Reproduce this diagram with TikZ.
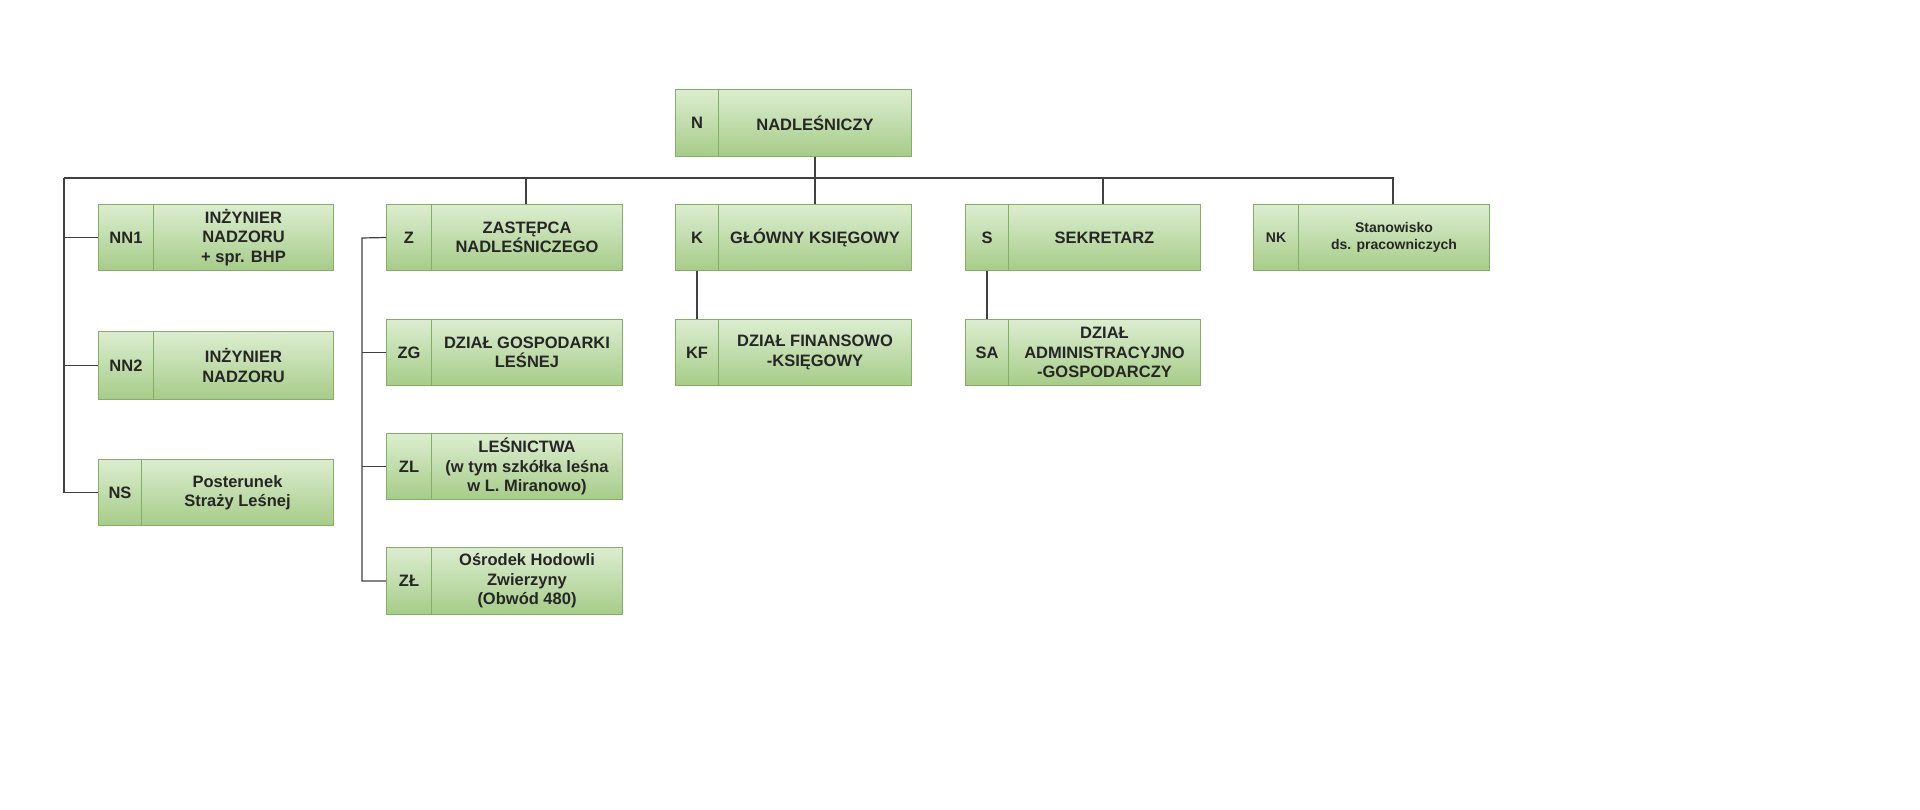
\documentclass[tikz,border=0pt]{standalone}
\usepackage{fontspec}
\setmainfont{Liberation Sans}
\definecolor{gtop}{HTML}{DCEDD0}
\definecolor{gbot}{HTML}{A6CC88}
\definecolor{gline}{HTML}{82AE68}
\begin{document}
\begin{tikzpicture}[x=1pt,y=-1pt,
  cell/.style={draw=gline, line width=1pt, top color=gtop, bottom color=gbot, shading angle=0,
    inner sep=2pt, anchor=north west, align=center, font=\bfseries\fontsize{16.5}{19.5}\selectfont, text=black!85},
  wire/.style={draw=black!75, line width=1.2pt}]
\useasboundingbox (0,0) rectangle (1920,810);
\newcommand{\orgbox}[8]{%
  \node[cell, minimum width={#4-#2}, minimum height={#5-#3}] (#1c) at (#2,#3) {#7};
  \node[cell, minimum width={#6-#4}, minimum height={#5-#3}] (#1t) at (#4,#3) {#8};
}
% name, x1,y1, divider,y2, x2, code, text
\orgbox{n}{675}{89}{718}{156}{911}{N}{NADLEŚNICZY}
\orgbox{nna}{98}{204}{153}{270}{333}{NN1}{INŻYNIER\\NADZORU\\+ spr. BHP}
\orgbox{nnb}{98}{331}{153}{399}{333}{NN2}{INŻYNIER\\NADZORU}
\orgbox{ns}{98}{459}{141}{525}{333}{NS}{Posterunek\\Straży Leśnej}
\orgbox{z}{386}{204}{431}{270}{622}{Z}{ZASTĘPCA\\NADLEŚNICZEGO}
\orgbox{zg}{386}{319}{431}{385}{622}{ZG}{DZIAŁ GOSPODARKI\\LEŚNEJ}
\orgbox{zl}{386}{433}{431}{499}{622}{ZL}{LEŚNICTWA\\(w tym szkółka leśna\\w L. Miranowo)}
\orgbox{zll}{386}{547}{431}{614}{622}{ZŁ}{Ośrodek Hodowli\\Zwierzyny\\(Obwód 480)}
\orgbox{k}{675}{204}{718}{270}{911}{K}{GŁÓWNY KSIĘGOWY}
\orgbox{kf}{675}{319}{718}{385}{911}{KF}{DZIAŁ FINANSOWO\\-KSIĘGOWY}
\orgbox{s}{965}{204}{1008}{270}{1200}{S}{SEKRETARZ}
\orgbox{sa}{965}{319}{1008}{385}{1200}{SA}{DZIAŁ\\ADMINISTRACYJNO\\-GOSPODARCZY}
\node[cell, minimum width=45, minimum height=66, font=\bfseries\fontsize{14}{17}\selectfont] (nkc) at (1253,204) {NK};
\node[cell, minimum width=191, minimum height=66, font=\bfseries\fontsize{14}{17}\selectfont] (nkt) at (1298,204) {Stanowisko\\ds. pracowniczych};
% bus
\coordinate (bl) at (64,178);
\coordinate (br) at (1393,178);
\coordinate (bn) at (815,178);
\coordinate (bz) at (526,178);
\coordinate (bs) at (1103,178);
\draw[wire] (nt.south -| bn) -- (bn);
\draw[wire] (bl) -- (br) -- (nkt.north -| br);
\draw[wire] (bz) -- (zt.north -| bz);
\draw[wire] (bn) -- (kt.north -| bn);
\draw[wire] (bs) -- (st.north -| bs);
\draw[wire] (bl) |- (nsc.west);
\draw[wire] (nnac.west) -- (nnac.west -| bl);
\draw[wire] (nnbc.west) -- (nnbc.west -| bl);
% Z group
\coordinate (zv) at (362,238);
\draw[wire] (zc.west) -- (zv) |- (zllc.west);
\draw[wire] (zgc.west) -- (zgc.west -| zv);
\draw[wire] (zlc.west) -- (zlc.west -| zv);
\draw[wire] (kc.south) -- (kfc.north);
\draw[wire] (sc.south) -- (sac.north);
\end{tikzpicture}
\end{document}
